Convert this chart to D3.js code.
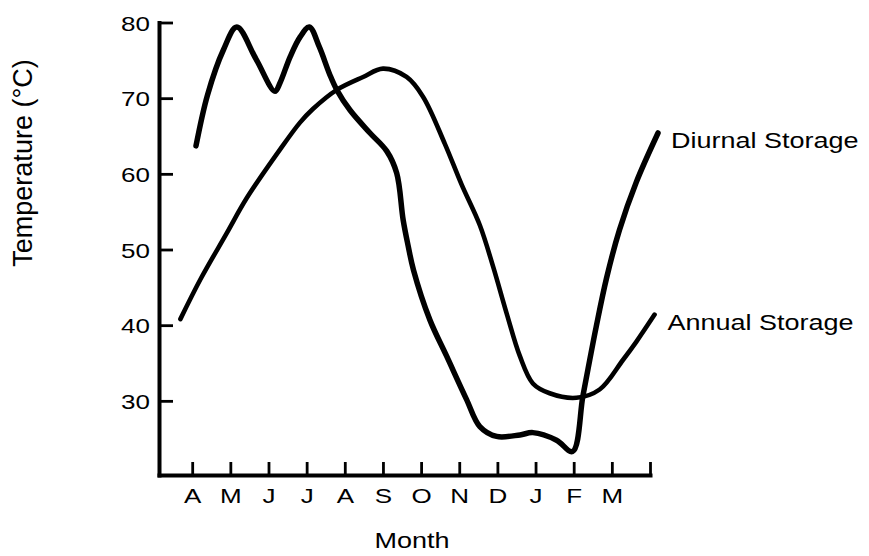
<!DOCTYPE html>
<html lang="en">
<head>
    <meta charset="UTF-8">
    <title>Storage Temperature by Month</title>
    <script src="https://d3js.org/d3.v7.min.js"></script>
    <style>
        body {
            margin: 0;
            padding: 0;
            background: #fff;
        }
        svg {
            display: block;
            font-family: "Liberation Sans", Arial, Helvetica, sans-serif;
        }
        .axis .domain {
            stroke: #000;
            stroke-width: 4px;
            stroke-linecap: square;
        }
        .axis .tick line {
            stroke: #000;
            stroke-width: 2.8px;
        }
        .axis text {
            fill: #000;
            font-size: 26px;
            font-family: "Liberation Sans", Arial, Helvetica, sans-serif;
        }
        .curve {
            fill: none;
            stroke: #000;
            stroke-linecap: round;
            stroke-linejoin: round;
        }
    </style>
</head>
<body>
    <svg width="869" height="556"></svg>

    <script>
        // month labels (April .. March), tick 12 is the unlabeled end tick
        const months = ["A", "M", "J", "J", "A", "S", "O", "N", "D", "J", "F", "M"];
        const tempTicks = [30, 40, 50, 60, 70, 80];

        // Diurnal storage: month position (0 = April) and temperature (°C)
        const diurnalMonth = [0.10, 0.40, 0.82, 1.17, 1.67, 2.17, 2.30, 2.57, 2.83, 3.07, 3.33,
            3.60, 3.79, 4.14, 4.66, 5.10, 5.36, 5.53, 5.66, 5.80, 6.23, 6.67, 7.19, 7.54,
            7.98, 8.59, 8.93, 9.55, 9.97, 10.24, 10.42, 10.59, 10.86, 11.20, 11.64, 12.21];
        const diurnalTemp = [63.7, 70.4, 76.4, 79.4, 75.2, 70.9, 72.0, 75.5, 78.1, 79.4, 76.8,
            73.2, 71.1, 68.4, 65.4, 63.0, 60.1, 53.9, 50.5, 47.3, 40.7, 35.9, 30.2, 26.6,
            25.3, 25.5, 25.8, 24.8, 23.3, 30.6, 35.4, 39.8, 46.2, 52.6, 58.9, 65.4];

        // Annual storage
        const annualMonth = [-0.31, 0.21, 0.91, 1.43, 2.30, 2.83, 3.17, 3.79, 4.48, 5.00, 5.62, 6.05,
            6.62, 7.06, 7.54, 7.89, 8.24, 8.59, 8.93, 9.37, 10.07, 10.68, 11.29, 11.64, 12.12];
        const annualTemp = [40.8, 46.0, 52.2, 56.8, 63.2, 66.8, 68.6, 71.1, 72.8, 73.9, 72.8, 70.2,
            64.0, 58.6, 53.2, 47.7, 41.6, 35.9, 32.3, 31.0, 30.4, 31.5, 35.4, 37.8, 41.4];

        const series = [
            { name: "Diurnal Storage", months: diurnalMonth, temps: diurnalTemp, width: 5.5 },
            { name: "Annual Storage", months: annualMonth, temps: annualTemp, width: 4.6 }
        ];

        const svg = d3.select("svg");

        const x = d3.scaleLinear()
            .domain([-0.87, 12])
            .range([159, 650]);

        const y = d3.scaleLinear()
            .domain([20.2, 80])
            .range([475, 22.5]);

        // x axis, ticks pointing up
        const xAxis = svg.append("g")
            .attr("class", "axis")
            .attr("transform", `translate(0,${y.range()[0]})`)
            .call(d3.axisBottom(x)
                .tickValues(d3.range(13))
                .tickSizeInner(-13)
                .tickSizeOuter(0)
                .tickFormat(i => months[i] || ""));

        xAxis.selectAll("text")
            .attr("y", 0)
            .attr("dy", null)
            .attr("transform", "translate(0,28) scale(1,0.8)");

        // y axis, ticks pointing right
        const yAxis = svg.append("g")
            .attr("class", "axis")
            .attr("transform", `translate(${x.range()[0]},0)`)
            .call(d3.axisLeft(y)
                .tickValues(tempTicks)
                .tickSizeInner(-14)
                .tickSizeOuter(0)
                .tickPadding(9));

        yAxis.selectAll("text")
            .attr("x", 0)
            .attr("dy", null)
            .attr("transform", "translate(-9,7.5) scale(1,0.8)");

        // curves
        const line = d3.line()
            .x(d => x(d[0]))
            .y(d => y(d[1]))
            .curve(d3.curveCatmullRom.alpha(0.5));

        series.forEach(s => {
            const pts = s.months.map((m, i) => [m, s.temps[i]]);
            svg.append("path")
                .datum(pts)
                .attr("class", "curve")
                .attr("stroke-width", s.width)
                .attr("d", line);

            const last = pts[pts.length - 1];
            svg.append("text")
                .attr("transform", `translate(${x(last[0]) + 13},${y(last[1]) + 15.5}) scale(1,0.8)`)
                .attr("font-size", 27)
                .attr("fill", "#000")
                .text(s.name);
        });

        // axis titles
        svg.append("text")
            .attr("transform", "translate(412,548) scale(1,0.8)")
            .attr("text-anchor", "middle")
            .attr("font-size", 27)
            .attr("fill", "#000")
            .text("Month");

        svg.append("text")
            .attr("transform", "translate(32,163) rotate(-90)")
            .attr("text-anchor", "middle")
            .attr("font-size", 27)
            .attr("fill", "#000")
            .text("Temperature (°C)");
    </script>
</body>
</html>
